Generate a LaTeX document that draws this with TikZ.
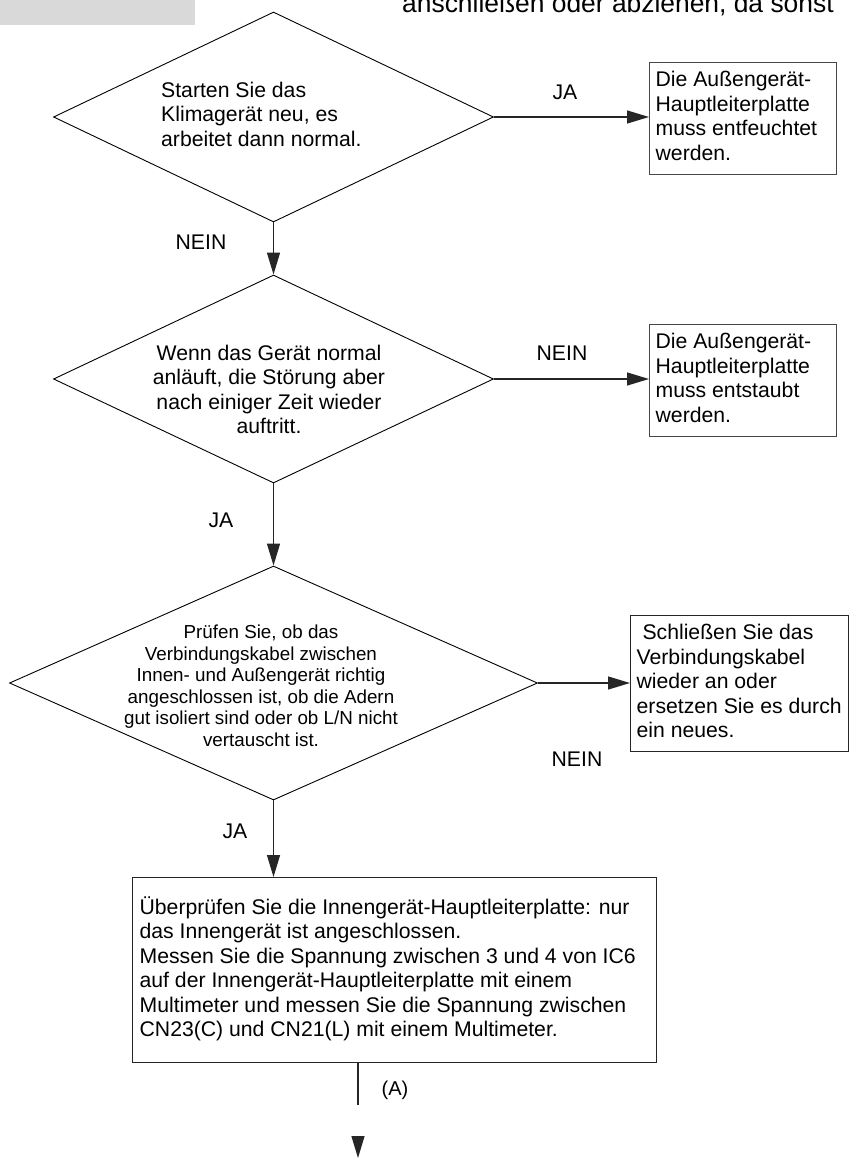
\documentclass[tikz,border=0pt]{standalone}
\usepackage{fontspec}
\setmainfont{Liberation Sans}
\usetikzlibrary{shapes.geometric,arrows.meta}
\definecolor{hdrgray}{HTML}{D9D9D9}
\newcommand\ltxt[2]{\makebox[#1pt][l]{\begin{tabular}{@{}l@{}}#2\end{tabular}}}
\tikzset{
  dia/.style={draw=black, line width=0.9pt, shape=diamond, inner sep=0pt},
  box/.style={draw=black!72, line width=1.3pt, rectangle, inner ysep=0pt, anchor=north west,
    font=\fontsize{21.2}{24.5}\selectfont},
  arr/.style={draw=black!85, line width=1.3pt, -{Triangle[length=22pt,width=13pt]}},
  plain/.style={draw=black!85, line width=1.3pt},
  lab/.style={inner sep=0pt, font=\fontsize{21.2}{24.5}\selectfont},
  dtxt/.style={inner sep=0pt, font=\fontsize{21.2}{24.5}\selectfont},
  dtxtsmall/.style={inner sep=0pt, font=\fontsize{18.8}{21.5}\selectfont}
}
\begin{document}
\begin{tikzpicture}[x=1pt,y=-1pt]
\useasboundingbox (0,0) rectangle (849,1158);
\fill[hdrgray] (0,0) rectangle (195,25);
\node[anchor=base west, inner sep=0pt, font=\fontsize{26.4}{30}\selectfont] (toptxt) at (402,13) {anschließen oder abziehen, da sonst};

% diamonds
\node[dia, minimum width=440, minimum height=210] (d1) at (273.5,117) {};
\node[dia, minimum width=440, minimum height=208] (d2) at (273.5,379) {};
\node[dia, minimum width=528, minimum height=234] (d3) at (273.5,683) {};

\node[dtxt, anchor=west] (t1) at (161,117) {\begin{tabular}{@{}l@{}}Starten Sie das\\Klimagerät neu, es\\arbeitet dann normal.\end{tabular}};
\node[dtxt] (t2) at (269,392) {\begin{tabular}{@{}c@{}}Wenn das Gerät normal\\anläuft, die Störung aber\\nach einiger Zeit wieder\\auftritt.\end{tabular}};
\node[dtxtsmall] (t3) at (261,688) {\begin{tabular}{@{}c@{}}Prüfen Sie, ob das\\Verbindungskabel zwischen\\Innen- und Außengerät richtig\\angeschlossen ist, ob die Adern\\gut isoliert sind oder ob L/N nicht\\vertauscht ist.\end{tabular}};

% boxes
\node[box, minimum width=187, minimum height=112, inner xsep=6pt] (b1) at (649,62)
  {\ltxt{175}{Die Außengerät-\\Hauptleiterplatte\\muss entfeuchtet\\werden.}};
\node[box, minimum width=187, minimum height=112, inner xsep=6pt] (b2) at (649,324)
  {\ltxt{175}{Die Außengerät-\\Hauptleiterplatte\\muss entstaubt\\werden.}};
\node[box, draw=black!85, minimum width=218, minimum height=136, inner xsep=6pt] (b3) at (630,615)
  {\ltxt{206}{\ Schließen Sie das\\Verbindungskabel\\wieder an oder\\ersetzen Sie es durch\\ein neues.}};
\node[box, draw=black!85, minimum width=524, minimum height=185, inner xsep=7pt] (b4) at (132,877)
  {\ltxt{510}{Überprüfen Sie die Innengerät-Hauptleiterplatte: nur\\das Innengerät ist angeschlossen.\\Messen Sie die Spannung zwischen 3 und 4 von IC6\\auf der Innengerät-Hauptleiterplatte mit einem\\Multimeter und messen Sie die Spannung zwischen\\CN23(C) und CN21(L) mit einem Multimeter.}};

% connectors
\draw[arr] (d1.east) -- (d1.east -| b1.west);
\draw[arr] (d2.east) -- (d2.east -| b2.west);
\draw[arr] (d3.east) -- (d3.east -| b3.west);
\draw[arr] (d1.south) -- (d2.north);
\draw[arr] (d2.south) -- (d3.north);
\draw[arr] (d3.south) -- (d3.south |- b4.north);
\coordinate (aend) at (358,1105);
\draw[plain] (b4.south -| aend) -- (aend);
\coordinate (h1) at (358,1136);
\coordinate (h2) at (358,1158);
\draw[arr] (h1) -- (h2);

% labels
\node[lab] (l1) at (565,92) {JA};
\node[lab] (l2) at (201,242) {NEIN};
\node[lab] (l3) at (562,353) {NEIN};
\node[lab] (l4) at (221,520) {JA};
\node[lab] (l5) at (577,759) {NEIN};
\node[lab] (l6) at (235,831) {JA};
\node[lab, font=\fontsize{20}{24}\selectfont] (l7) at (395,1090) {(A)};
\end{tikzpicture}
\end{document}
